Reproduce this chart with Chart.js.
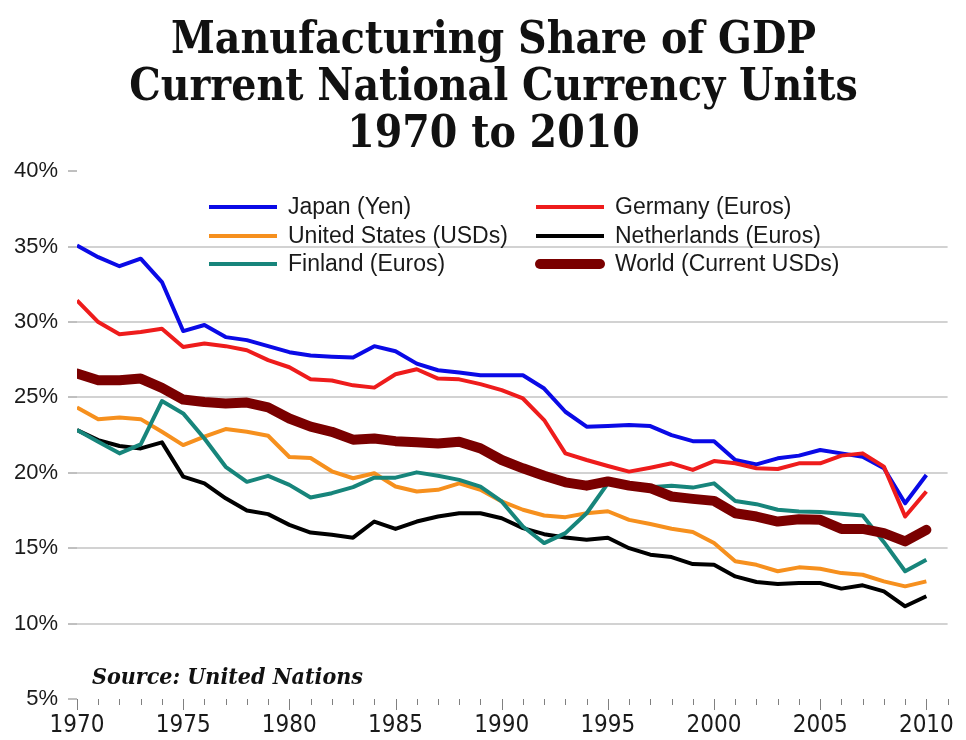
<!DOCTYPE html>
<html><head><meta charset="utf-8">
<script src="https://cdn.jsdelivr.net/npm/chart.js@4/dist/chart.umd.min.js"></script>
<style>html,body{margin:0;padding:0;background:#fff}#wrap{width:966px;height:740px;position:relative}</style>
</head><body><div id="wrap"><canvas id="c" width="966" height="740"></canvas></div>
<script>
const years = [1970,1971,1972,1973,1974,1975,1976,1977,1978,1979,
  1980,1981,1982,1983,1984,1985,1986,1987,1988,1989,
  1990,1991,1992,1993,1994,1995,1996,1997,1998,1999,
  2000,2001,2002,2003,2004,2005,2006,2007,2008,2009,2010];
const japan = [35.07,34.3,33.7,34.2,32.65,29.4,29.8,29.0,28.8,28.4,
  28.0,27.78,27.7,27.64,28.4,28.06,27.24,26.8,26.65,26.47,
  26.47,26.47,25.59,24.05,23.06,23.1,23.17,23.1,22.5,22.1,
  22.1,20.85,20.56,20.96,21.14,21.51,21.29,21.07,20.3,17.98,19.86];
const germany = [31.43,30.0,29.19,29.34,29.56,28.35,28.57,28.4,28.13,27.47,
  27.0,26.2,26.12,25.8,25.65,26.54,26.87,26.25,26.2,25.88,
  25.48,24.93,23.5,21.29,20.85,20.45,20.08,20.34,20.63,20.19,
  20.78,20.63,20.3,20.25,20.63,20.63,21.14,21.29,20.41,17.1,18.76];
const unitedStates = [24.34,23.56,23.67,23.56,22.72,21.84,22.4,22.9,22.72,22.46,
  21.05,20.98,20.1,19.64,19.97,19.09,18.76,18.87,19.3,18.87,
  18.1,17.55,17.17,17.06,17.32,17.45,16.88,16.6,16.29,16.07,
  15.34,14.13,13.9,13.47,13.73,13.64,13.35,13.24,12.8,12.47,12.8];
const netherlands = [22.84,22.17,21.78,21.62,22.02,19.75,19.3,18.31,17.5,17.26,
  16.55,16.04,15.89,15.7,16.77,16.28,16.77,17.1,17.32,17.32,
  16.99,16.33,15.93,15.71,15.56,15.69,15.0,14.57,14.41,13.95,
  13.9,13.13,12.76,12.63,12.69,12.69,12.32,12.54,12.14,11.15,11.81];
const finland = [22.84,22.06,21.29,21.89,24.76,23.94,22.28,20.4,19.4,19.8,
  19.2,18.36,18.65,19.05,19.68,19.68,20.03,19.81,19.53,19.09,
  18.1,16.44,15.34,16.0,17.32,19.3,19.2,19.05,19.15,19.02,
  19.3,18.13,17.92,17.55,17.43,17.4,17.28,17.17,15.4,13.47,14.24];
const world = [26.58,26.14,26.14,26.25,25.63,24.86,24.7,24.6,24.66,24.34,
  23.6,23.06,22.72,22.2,22.28,22.1,22.02,21.95,22.06,21.62,
  20.85,20.3,19.8,19.37,19.15,19.43,19.15,18.98,18.43,18.27,
  18.14,17.32,17.1,16.77,16.92,16.88,16.28,16.28,16.0,15.45,16.22];
const seriesNames = ['Japan (Yen)','Germany (Euros)','United States (USDs)','Netherlands (Euros)','Finland (Euros)','World (Current USDs)'];
const yTickValues = [5,10,15,20,25,30,35,40];
const xLabelYears = [1970,1975,1980,1985,1990,1995,2000,2005,2010];
const xTickYears = [1970,1971,1972,1973,1974,1975,1976,1977,1978,1979,
  1980,1981,1982,1983,1984,1985,1986,1987,1988,1989,
  1990,1991,1992,1993,1994,1995,1996,1997,1998,1999,
  2000,2001,2002,2003,2004,2005,2006,2007,2008,2009,2010,2011];
const titleLines = ['Manufacturing Share of GDP','Current National Currency Units','1970 to 2010'];
const sourceText = 'Source: United Nations';

const pts = arr => arr.map((v,i)=>({x:years[i], y:v}));
const SERIF = "'DejaVu Serif Condensed','DejaVu Serif',serif";
const NARROW = "'Liberation Sans Narrow','Arial Narrow','DejaVu Sans Condensed',sans-serif";
const SANS = "'Liberation Sans',Arial,sans-serif";

const titleShiftPlugin = {
  id:'titleShift',
  afterLayout(chart){
    if (chart.titleBlock) { chart.titleBlock.left = 28; }
  }
};
const xTicksPlugin = {
  id:'xTickMarks',
  afterDraw(chart){
    const ctx = chart.ctx, xs = chart.scales.x, b = chart.chartArea.bottom;
    ctx.save();
    ctx.strokeStyle = '#808080'; ctx.lineWidth = 1;
    xTickYears.forEach(yr=>{
      const px = Math.round(xs.getPixelForValue(yr)) + 0.5;
      const len = (yr % 5 === 0) ? 11 : 6;
      ctx.beginPath(); ctx.moveTo(px, b); ctx.lineTo(px, b+len); ctx.stroke();
    });
    ctx.restore();
  }
};
const legendPlugin = {
  id:'customLegend',
  afterDraw(chart){
    const ctx = chart.ctx, ds = chart.data.datasets;
    const cols = [{lx:209, tx:288, items:[0,2,4]}, {lx:536, tx:615, items:[1,3,5]}];
    const rows = [207, 236, 264];
    ctx.save();
    ctx.font = '23px ' + SANS;
    ctx.textBaseline = 'middle';
    cols.forEach(c=>{
      c.items.forEach((di,r)=>{
        const d = ds[di], y = rows[r];
        ctx.strokeStyle = d.borderColor;
        ctx.lineWidth = d.borderWidth;
        ctx.lineCap = d.borderWidth > 6 ? 'round' : 'butt';
        ctx.beginPath(); ctx.moveTo(c.lx + (d.borderWidth>6?4:0), y); ctx.lineTo(c.lx+68-(d.borderWidth>6?4:0), y); ctx.stroke();
        ctx.fillStyle = '#1a1a1a';
        ctx.fillText(d.label, c.tx, y+1);
      });
    });
    ctx.font = 'italic bold 23px ' + SERIF;
    ctx.fillStyle = '#111';
    ctx.fillText(sourceText, 92, 678);
    ctx.restore();
  }
};

const colors = ['#0a0ae6','#ee1c1c','#f6901e','#000000','#17857b','#7a0000'];
const values = [japan, germany, unitedStates, netherlands, finland, world];
const orders = [5,1,4,3,2,0];
const datasets = values.map((v,i)=>({
  label: seriesNames[i],
  data: pts(v),
  borderColor: colors[i],
  backgroundColor: colors[i],
  borderWidth: i===5 ? 10 : 4,
  pointRadius: 0,
  tension: 0,
  fill: false,
  order: orders[i],
  borderJoinStyle: 'round',
  borderCapStyle: i===5 ? 'round' : 'butt'
}));

new Chart(document.getElementById('c'), {
  type:'line',
  data:{datasets},
  options:{
    responsive:false,
    animation:false,
    devicePixelRatio:1,
    layout:{padding:{left:0,right:7,top:0,bottom:0}},
    plugins:{
      legend:{display:false},
      tooltip:{enabled:false},
      title:{
        display:true,
        text:titleLines,
        color:'#111',
        font:{family:SERIF, size:44, weight:'bold', lineHeight:1.07},
        padding:{top:18,bottom:12}
      }
    },
    scales:{
      x:{
        type:'linear', min:1970, max:2011,
        afterBuildTicks: s => { s.ticks = xLabelYears.map(v=>({value:v})); },
        afterFit: s => { s.height = 41; },
        grid:{display:false, drawTicks:false},
        border:{display:false},
        ticks:{padding:12, color:'#1a1a1a', font:{family:NARROW, size:24}, maxRotation:0, autoSkip:false,
          callback: v => String(v)}
      },
      y:{
        min:5, max:40,
        afterBuildTicks: s => { s.ticks = yTickValues.map(v=>({value:v})); },
        afterFit: s => { s.width = 77; },
        border:{display:false},
        grid:{
          color: c => (c.tick && (c.tick.value===5 || c.tick.value===40)) ? 'rgba(0,0,0,0)' : '#d2d2d2',
          lineWidth:2,
          drawTicks:true, tickLength:9, tickColor:'#808080', tickWidth:1
        },
        ticks:{padding:10, color:'#1a1a1a', font:{family:SANS, size:22}, callback: v => v + '%'}
      }
    }
  },
  plugins:[titleShiftPlugin, xTicksPlugin, legendPlugin]
});
</script></body></html>
